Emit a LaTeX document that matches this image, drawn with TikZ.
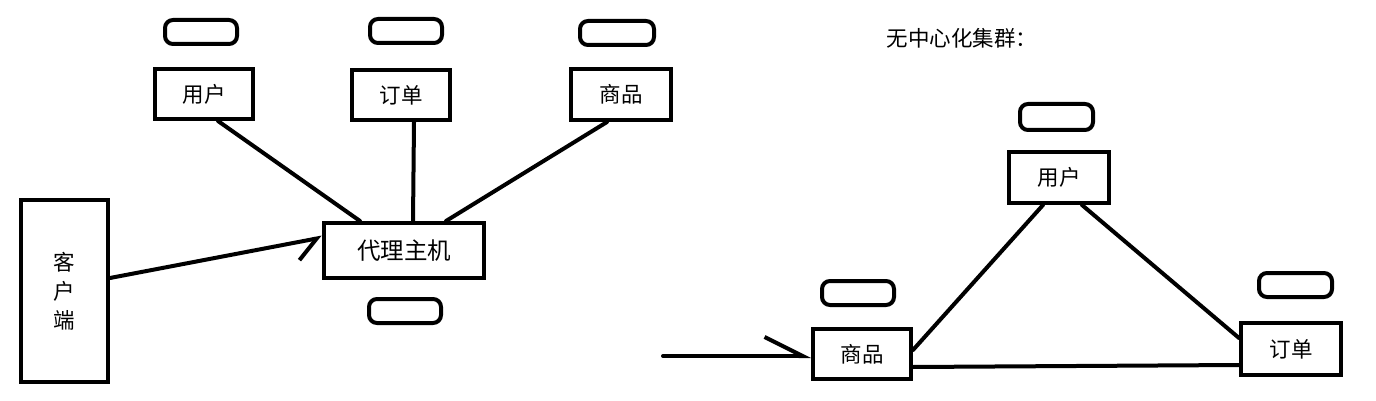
\documentclass[tikz,border=0pt]{standalone}
\usepackage{fontspec}
\usetikzlibrary{arrows.meta}
\newfontfamily\cjk{Noto Sans CJK SC}
\newcommand{\lbl}{\cjk\fontsize{21.5}{29}\selectfont}
\newcommand{\lblbig}{\cjk\fontsize{23.5}{26}\selectfont}

\begin{document}
\begin{tikzpicture}[x=1pt, y=-1pt,
    wire/.style={draw=black, line width=4pt, line cap=round},
    box/.style={rectangle, draw=black, line width=4pt, inner sep=0pt, font=\lbl},
    slot/.style={rectangle, rounded corners=8pt, draw=black, line width=4pt,
                 minimum width=72pt, minimum height=24pt, inner sep=0pt},
    head/.style={font=\lbl},
  ]
  \path[use as bounding box, fill=white] (0,0) rectangle (1376,401);

  %% ================= proxy cluster =================
  \node[box, minimum width=87pt, minimum height=182pt, align=center]
        (client) at (64.5,291) {客\\户\\端};
  \node[box, minimum width=160pt, minimum height=55pt, font=\lblbig]
        (proxy) at (404,250.5) {代理主机};
  \node[box, minimum width=98pt, minimum height=50pt] (userL)  at (204,94)  {用户};
  \node[box, minimum width=98pt, minimum height=50pt] (orderL) at (401,95)  {订单};
  \node[box, minimum width=100pt, minimum height=51pt] (goodsL) at (621,94.5) {商品};

  \node[slot] (slotUL) at (201,32) {};
  \node[slot] (slotOL) at (406,31) {};
  \node[slot, minimum width=74pt] (slotGL) at (617,33) {};
  \node[slot] (slotP)  at (405,311) {};

  \draw[wire] ([xshift=14pt]userL.south)   -- ([xshift=-44pt]proxy.north);
  \draw[wire] ([xshift=13pt]orderL.south)  -- ([xshift=9pt]proxy.north);
  \draw[wire] ([xshift=-14pt]goodsL.south) -- ([xshift=42pt]proxy.north);
  \draw[wire, -{Straight Barb[harpoon, swap, length=21pt, width=36pt]}]
        ([yshift=13pt]client.east) -- ([yshift=13pt]proxy.west);

  %% ================= decentralised cluster =================
  \node[head] (title) at (962,38) {无中心化集群：};

  \node[box, minimum width=98pt, minimum height=50pt]  (goodsR) at (862,354)   {商品};
  \node[box, minimum width=100pt, minimum height=51pt] (userR)  at (1059,177.5) {用户};
  \node[box, minimum width=100pt, minimum height=52pt] (orderR) at (1291,349)  {订单};

  \node[slot] (slotGR) at (858,293) {};
  \node[slot, minimum width=73pt, minimum height=26pt] (slotUR) at (1056.5,117) {};
  \node[slot, minimum width=73pt] (slotOR) at (1295.5,285) {};

  \coordinate (inR) at (663,356);
  \draw[wire, -{Straight Barb[harpoon, length=38pt, width=38pt]}]
        (inR) -- (inR -| goodsR.west);

  \draw[wire] ([xshift=-16pt]userR.south) -- ([yshift=4pt]goodsR.east);
  \draw[wire] ([xshift=23pt]userR.south)  -- ([yshift=11pt]orderR.west);
  \draw[wire] ([yshift=-13pt]goodsR.east) -- ([yshift=-16pt]orderR.west);

\end{tikzpicture}
\end{document}
